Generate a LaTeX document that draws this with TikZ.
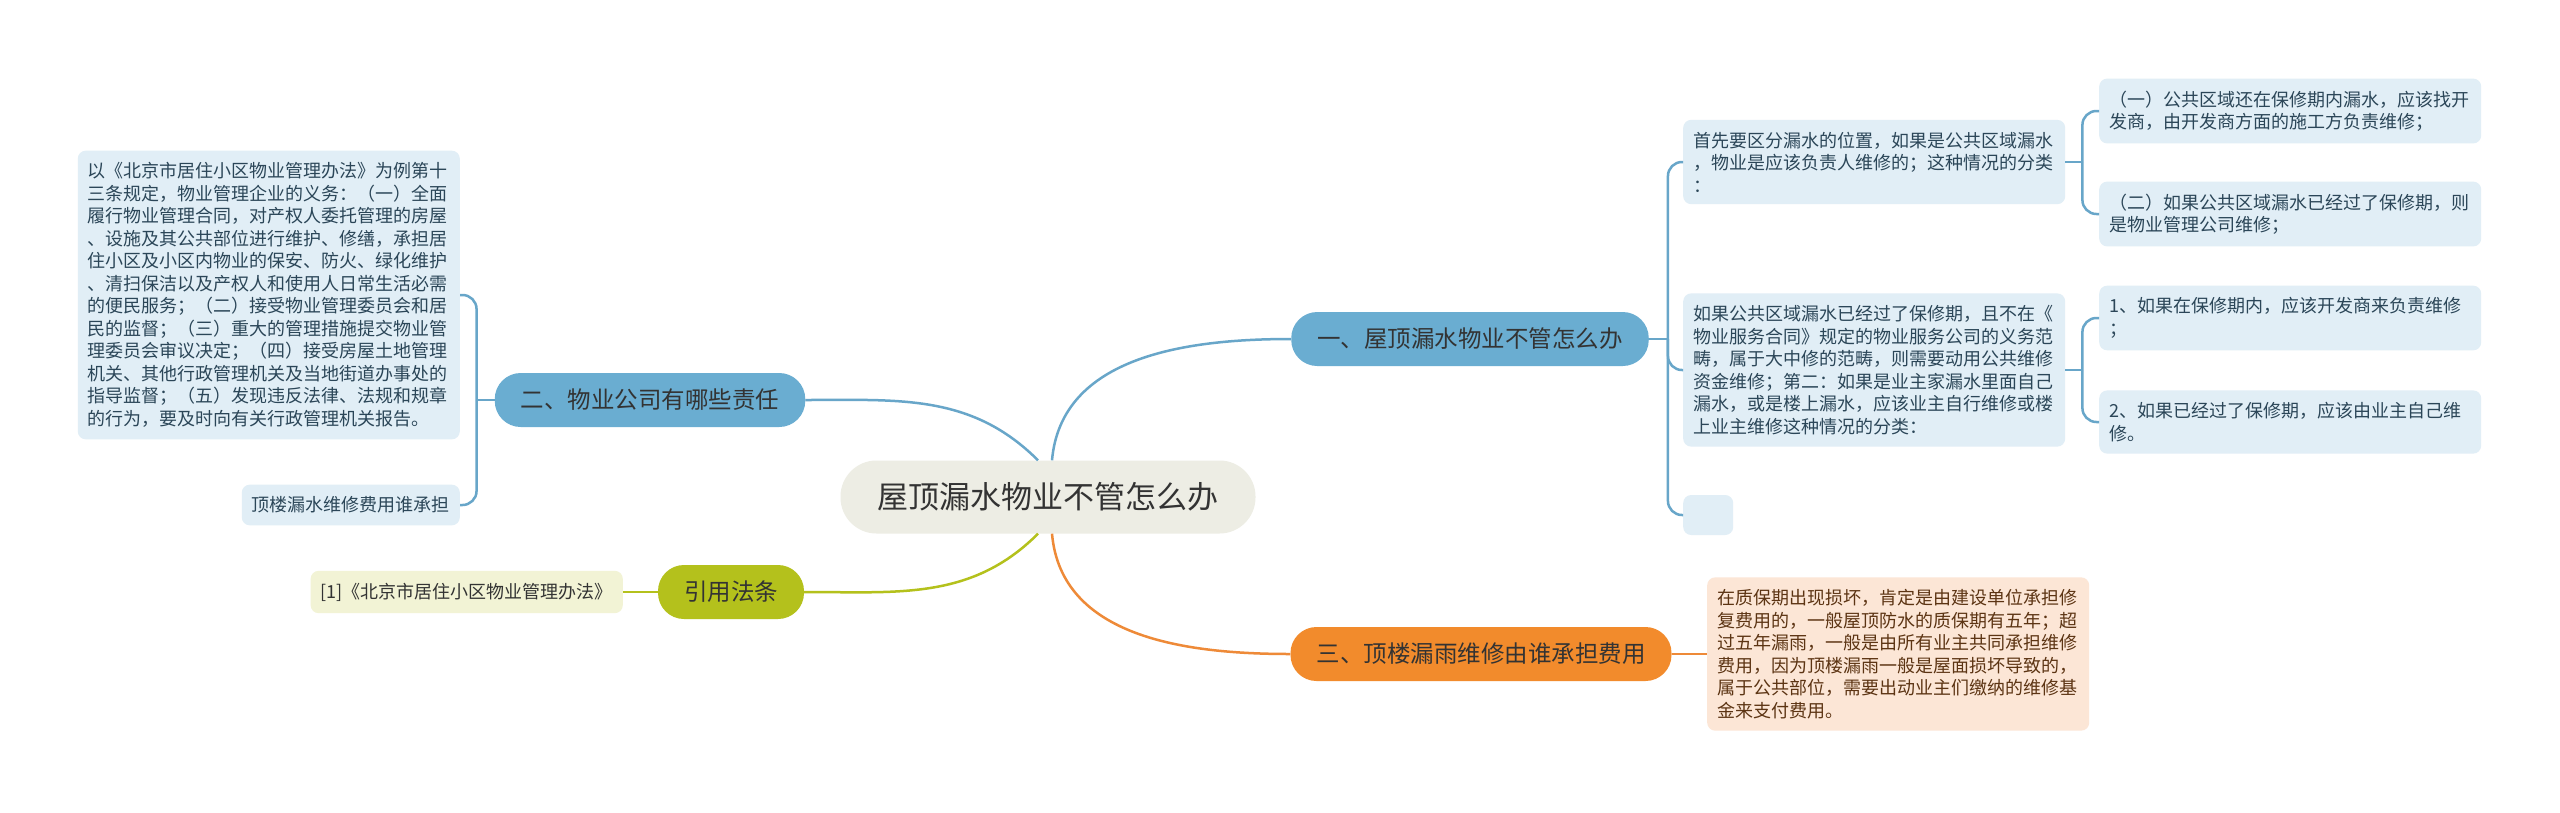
\documentclass[tikz,border=0pt]{standalone}
\usepackage{fontspec}
\setmainfont{Noto Sans CJK SC}
\usepackage{xcolor}
\usetikzlibrary{positioning,calc}

\definecolor{rootfill}{HTML}{EDEDE4}
\definecolor{bluemain}{HTML}{6AADD1}
\definecolor{blueline}{HTML}{68A6C9}
\definecolor{bluelight}{HTML}{E1EEF6}
\definecolor{bluetext}{HTML}{2B4658}
\definecolor{olivemain}{HTML}{B4C11C}
\definecolor{olivelight}{HTML}{F2F3D5}
\definecolor{orangemain}{HTML}{F28B2C}
\definecolor{orangeline}{HTML}{EE8A38}
\definecolor{orangelight}{HTML}{FCE6D6}
\definecolor{orangetext}{HTML}{5C3413}
\definecolor{inktext}{HTML}{333333}

\begin{document}
\begin{tikzpicture}[
  x=1pt, y=1pt,
  root/.style   ={rectangle, rounded corners=36pt, fill=rootfill, text=inktext,
                  font=\fontsize{31}{36}\selectfont, minimum height=73pt, inner xsep=37pt},
  topic/.style  ={rectangle, rounded corners=26pt, text=inktext,
                  font=\fontsize{23.5}{28}\selectfont, minimum height=54pt, inner xsep=26pt},
  leaf/.style   ={rectangle, rounded corners=8pt, align=left,
                  font=\fontsize{18}{22.5}\selectfont, inner xsep=10pt, inner ysep=12pt},
  wide/.style   ={leaf, text width=362pt},
  blueleaf/.style  ={leaf, fill=bluelight, text=bluetext},
  oliveleaf/.style ={leaf, fill=olivelight, text=inktext},
  orangeleaf/.style={leaf, fill=orangelight, text=orangetext},
  link/.style   ={line width=2.5pt},
  fork/.style   ={link, draw=blueline, rounded corners=14pt},
]

\fill[white] (0,0) rectangle (2560,-812);

\def\cL{460}
\def\cR{1683}
\def\cRR{2099}

% ---------- ROOT ----------
\node[root] (root) at (1048,-497) {屋顶漏水物业不管怎么办};

% ---------- MAIN TOPICS ----------
\node[topic, fill=bluemain]   (b1) at (1470,-339) {一、屋顶漏水物业不管怎么办};
\node[topic, fill=bluemain]   (b2) at (650,-400)  {二、物业公司有哪些责任};
\node[topic, fill=olivemain]  (b3) at (731,-592)  {引用法条};
\node[topic, fill=orangemain] (b4) at (1481,-654) {三、顶楼漏雨维修由谁承担费用};

% ---------- RIGHT (topic 1) ----------
\node[blueleaf, wide, anchor=west] (r1) at (\cR,-162)
  {首先要区分漏水的位置，如果是公共区域漏水\\，物业是应该负责人维修的；这种情况的分类\\：};
\node[blueleaf, wide, anchor=west] (r2) at (\cR,-370)
  {如果公共区域漏水已经过了保修期，且不在《\\物业服务合同》规定的物业服务公司的义务范\\畴，属于大中修的范畴，则需要动用公共维修\\资金维修；第二：如果是业主家漏水里面自己\\漏水，或是楼上漏水，应该业主自行维修或楼\\上业主维修这种情况的分类：};
\node[fill=bluelight, rounded corners=8pt, minimum width=50pt, minimum height=40pt,
      anchor=west] (r3) at (\cR,-515) {};

\node[blueleaf, wide, anchor=west] (r11) at (\cRR,-111)
  {（一）公共区域还在保修期内漏水，应该找开\\发商，由开发商方面的施工方负责维修；};
\node[blueleaf, wide, anchor=west] (r12) at (\cRR,-214)
  {（二）如果公共区域漏水已经过了保修期，则\\是物业管理公司维修；};
\node[blueleaf, wide, anchor=west] (r21) at (\cRR,-318)
  {1、如果在保修期内，应该开发商来负责维修\\；};
\node[blueleaf, wide, anchor=west] (r22) at (\cRR,-422)
  {2、如果已经过了保修期，应该由业主自己维\\修。};

% ---------- LEFT (topic 2) ----------
\node[blueleaf, wide, anchor=east] (l1) at (\cL,-295)
  {以《北京市居住小区物业管理办法》为例第十\\三条规定，物业管理企业的义务：（一）全面\\履行物业管理合同，对产权人委托管理的房屋\\、设施及其公共部位进行维护、修缮，承担居\\住小区及小区内物业的保安、防火、绿化维护\\、清扫保洁以及产权人和使用人日常生活必需\\的便民服务；（二）接受物业管理委员会和居\\民的监督；（三）重大的管理措施提交物业管\\理委员会审议决定；（四）接受房屋土地管理\\机关、其他行政管理机关及当地街道办事处的\\指导监督；（五）发现违反法律、法规和规章\\的行为，要及时向有关行政管理机关报告。};
\node[blueleaf, anchor=east] (l2) at (\cL,-505) {顶楼漏水维修费用谁承担};

% ---------- LEFT (topic 3) / RIGHT (topic 4) ----------
\node[oliveleaf, anchor=east] (law) at (623,-592) {[1]《北京市居住小区物业管理办法》};
\node[orangeleaf, wide, anchor=west] (o1) at (1707,-654)
  {在质保期出现损坏，肯定是由建设单位承担修\\复费用的，一般屋顶防水的质保期有五年；超\\过五年漏雨，一般是由所有业主共同承担维修\\费用，因为顶楼漏雨一般是屋面损坏导致的，\\属于公共部位，需要出动业主们缴纳的维修基\\金来支付费用。};

% ---------- ROOT LINKS ----------
\coordinate (rootNW) at ($(root.north)+(-10,0)$);
\coordinate (rootNE) at ($(root.north)+(4,0)$);
\coordinate (rootSW) at ($(root.south)+(-10,0)$);
\coordinate (rootSE) at ($(root.south)+(4,0)$);
\draw[link, draw=blueline]   (rootNE) to[out=85, in=180]   (b1.west);
\draw[link, draw=blueline]   (rootNW) to[out=135, in=0]    (b2.east);
\draw[link, draw=olivemain]  (rootSW) to[out=-135, in=0]   (b3.east);
\draw[link, draw=orangeline] (rootSE) to[out=-85, in=180]  (b4.west);

% ---------- FORKS ----------
\coordinate (t1) at ($(b1.east)+(19,0)$);
\draw[link, draw=blueline] (b1.east) -- (t1);
\foreach \n in {r1,r2,r3} \draw[fork] (t1) |- (\n.west);

\coordinate (t2) at ($(b2.west)+(-18,0)$);
\draw[link, draw=blueline] (b2.west) -- (t2);
\foreach \n in {l1,l2} \draw[fork] (t2) |- (\n.east);

\coordinate (t3) at ($(r1.east)+(17,0)$);
\draw[link, draw=blueline] (r1.east) -- (t3);
\foreach \n in {r11,r12} \draw[fork] (t3) |- (\n.west);

\coordinate (t4) at ($(r2.east)+(17,0)$);
\draw[link, draw=blueline] (r2.east) -- (t4);
\foreach \n in {r21,r22} \draw[fork] (t4) |- (\n.west);

\draw[link, draw=olivemain]  (b3.west) -- (law.east);
\draw[link, draw=orangeline] (b4.east) -- (o1.west);

\end{tikzpicture}
\end{document}
